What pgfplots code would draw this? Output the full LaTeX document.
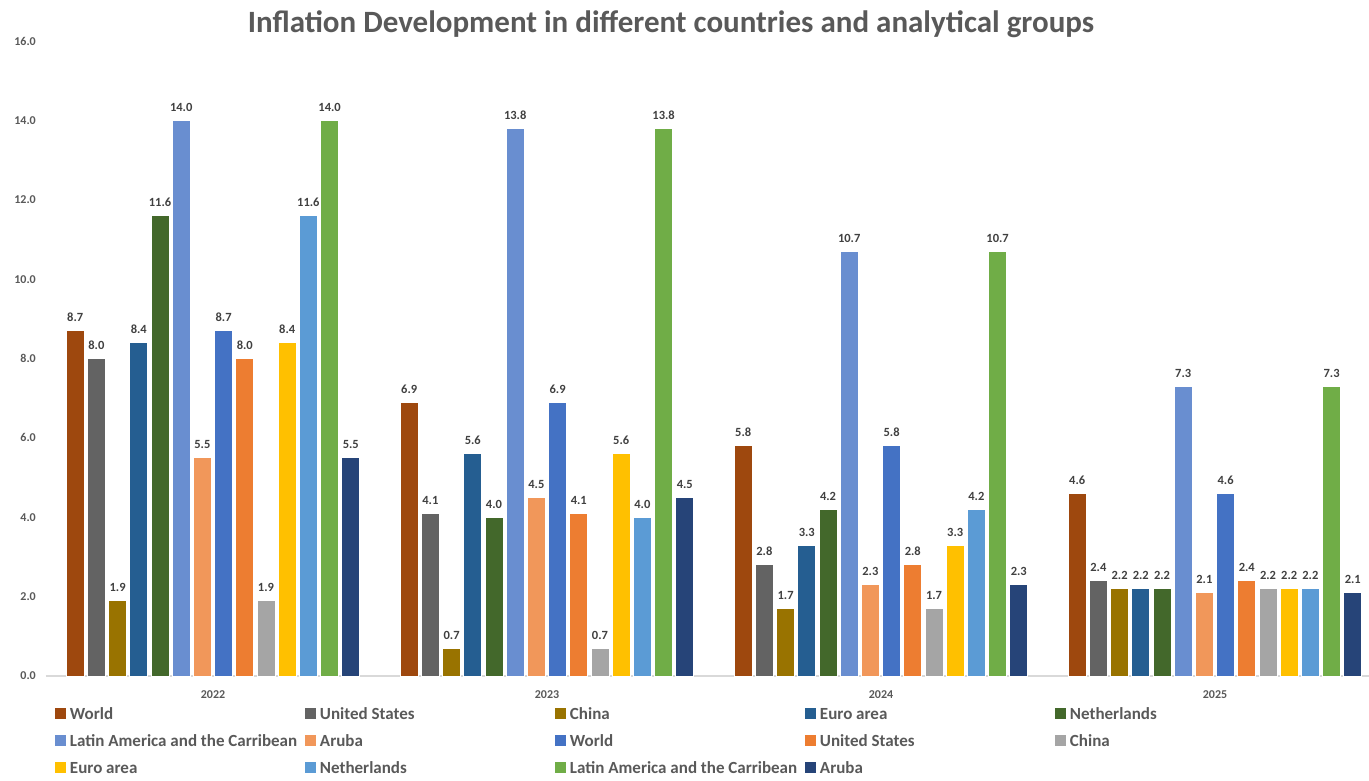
\documentclass[border=0pt]{standalone}
\usepackage{fontspec}
\setmainfont{Carlito}
\usepackage{pgfplots}
\usepackage{pgfplotstable}
\pgfplotsset{compat=1.18}

\definecolor{txt}{HTML}{595959}
\definecolor{lbl}{HTML}{404040}
\definecolor{axisgray}{HTML}{D9D9D9}
\definecolor{cA}{HTML}{9E480E}
\definecolor{cB}{HTML}{636363}
\definecolor{cC}{HTML}{997300}
\definecolor{cD}{HTML}{255E91}
\definecolor{cE}{HTML}{43682B}
\definecolor{cF}{HTML}{698ED0}
\definecolor{cG}{HTML}{F1975A}
\definecolor{cH}{HTML}{4472C4}
\definecolor{cI}{HTML}{ED7D31}
\definecolor{cJ}{HTML}{A5A5A5}
\definecolor{cK}{HTML}{FFC000}
\definecolor{cL}{HTML}{5B9BD5}
\definecolor{cM}{HTML}{70AD47}
\definecolor{cN}{HTML}{264478}

% inflation (%) by year; columns follow the legend order
\pgfplotstableread{
x  s1  s2  s3  s4  s5   s6   s7  s8  s9  s10 s11 s12  s13  s14
0  8.7 8.0 1.9 8.4 11.6 14.0 5.5 8.7 8.0 1.9 8.4 11.6 14.0 5.5
1  6.9 4.1 0.7 5.6 4.0  13.8 4.5 6.9 4.1 0.7 5.6 4.0  13.8 4.5
2  5.8 2.8 1.7 3.3 4.2  10.7 2.3 5.8 2.8 1.7 3.3 4.2  10.7 2.3
3  4.6 2.4 2.2 2.2 2.2  7.3  2.1 4.6 2.4 2.2 2.2 2.2  7.3  2.1
}\datatable

\newcommand\legtext[1]{\makebox[239pt][l]{\hspace{4pt}#1}}

\begin{document}
\begin{tikzpicture}
\path[use as bounding box] (0,0) rectangle (1369pt,780pt);
\node[font=\fontsize{31}{36}\selectfont\bfseries, text=txt] at (671pt,756pt)
  {Inflation Development in different countries and analytical groups};
\begin{axis}[
  at={(46pt,104pt)}, anchor=south west,
  scale only axis, width=1323pt, height=635pt,
  xmin=-0.5, xmax=3.461, ymin=0, ymax=16,
  ybar=3.2pt, bar width=18pt,
  /pgf/number format/assume math mode=true,
  separate axis lines,
  axis x line*=bottom, axis y line*=left,
  x axis line style={draw=axisgray, line width=1.3pt},
  y axis line style={draw=none},
  tick style={draw=none},
  xtick={0,1,2,3}, xticklabels={2022,2023,2024,2025},
  ytick={0,2,...,16},
  yticklabel={\pgfmathprintnumber[fixed,fixed zerofill,precision=1]{\tick}},
  xticklabel style={font=\fontsize{12}{14}\selectfont\bfseries, text=txt, inner sep=0pt, yshift=-10pt},
  yticklabel style={font=\fontsize{12}{14}\selectfont\bfseries, text=txt, inner sep=0pt, anchor=east, xshift=-10pt},
  every axis plot/.append style={draw=white, line width=0.8pt},
  nodes near coords={\pgfmathprintnumber[fixed,fixed zerofill,precision=1]{\pgfplotspointmeta}},
  every node near coord/.append style={font=\fontsize{12.5}{14}\selectfont\bfseries, text=lbl, inner sep=0pt, anchor=south, yshift=8.5pt},
  legend columns=5,
  legend cell align=left,
  legend image code/.code={\fill[#1,draw=none] (0pt,-5.5pt) rectangle (11pt,5.5pt);},
  legend style={at={(0,0)}, anchor=north west, xshift=9pt, yshift=-24pt,
    draw=none, fill=none, inner sep=0pt, outer sep=0pt, column sep=0pt,
    nodes={inner sep=0pt, text height=19pt, text depth=8pt},
    font=\fontsize{17}{20}\selectfont\bfseries, text=txt},
]
\addplot[fill=cA] table[x=x,y=s1]{\datatable};  \addlegendentry{\legtext{World}}
\addplot[fill=cB] table[x=x,y=s2]{\datatable};  \addlegendentry{\legtext{United States}}
\addplot[fill=cC] table[x=x,y=s3]{\datatable};  \addlegendentry{\legtext{China}}
\addplot[fill=cD] table[x=x,y=s4]{\datatable};  \addlegendentry{\legtext{Euro area}}
\addplot[fill=cE] table[x=x,y=s5]{\datatable};  \addlegendentry{\legtext{Netherlands}}
\addplot[fill=cF] table[x=x,y=s6]{\datatable};  \addlegendentry{\legtext{Latin America and the Carribean}}
\addplot[fill=cG] table[x=x,y=s7]{\datatable};  \addlegendentry{\legtext{Aruba}}
\addplot[fill=cH] table[x=x,y=s8]{\datatable};  \addlegendentry{\legtext{World}}
\addplot[fill=cI] table[x=x,y=s9]{\datatable};  \addlegendentry{\legtext{United States}}
\addplot[fill=cJ] table[x=x,y=s10]{\datatable}; \addlegendentry{\legtext{China}}
\addplot[fill=cK] table[x=x,y=s11]{\datatable}; \addlegendentry{\legtext{Euro area}}
\addplot[fill=cL] table[x=x,y=s12]{\datatable}; \addlegendentry{\legtext{Netherlands}}
\addplot[fill=cM] table[x=x,y=s13]{\datatable}; \addlegendentry{\legtext{Latin America and the Carribean}}
\addplot[fill=cN] table[x=x,y=s14]{\datatable}; \addlegendentry{\legtext{Aruba}}
\end{axis}
\end{tikzpicture}
\end{document}
